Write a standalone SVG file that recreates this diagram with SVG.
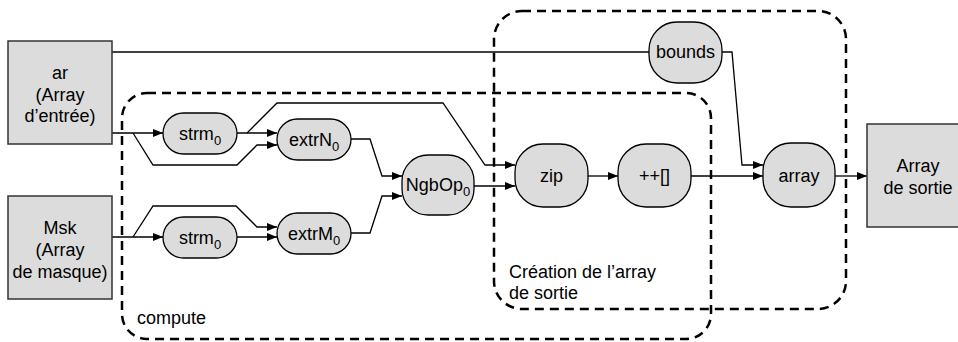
<svg xmlns="http://www.w3.org/2000/svg" width="958" height="342" viewBox="0 0 958 342">
<style>
.box{fill:#dcdcdc;stroke:#333;stroke-width:1.5}
.node{fill:#dcdcdc;stroke:#000;stroke-width:1.3}
.grp{fill:none;stroke:#000;stroke-width:2.5;stroke-dasharray:9 6}
.t{font-family:"Liberation Sans",Arial,sans-serif;font-size:18px;fill:#000}
.c{text-anchor:middle}
.sub{font-size:13px}
.e{fill:none;stroke:#000;stroke-width:1.3}
.a{marker-end:url(#arr)}
</style>
<defs>
<marker id="arr" markerUnits="userSpaceOnUse" markerWidth="10" markerHeight="8" refX="10" refY="4" orient="auto">
<path d="M0,0 L10,4 L0,8 z" fill="#000"/>
</marker>
</defs>
<rect fill="#fff" x="0" y="0" width="958" height="342"/>
<g id="groups">
<rect class="grp" x="494" y="11" width="352" height="298" rx="28"/>
<rect class="grp" x="122" y="93" width="589" height="246" rx="25"/>
<text class="t" x="137" y="324">compute</text>
<text class="t" x="509" y="278">Création de l’array</text>
<text class="t" x="509" y="299">de sortie</text>
</g>
<g id="connectors">
<path class="e" d="M112,52 H649"/>
<path class="e a" d="M112,133 H163"/>
<path class="e a" d="M133,133 L153,165 H237 L257,145 H277"/>
<path class="e a" d="M237,133 H277"/>
<path class="e a" d="M247,133 L277,103 H443 L485,165 H515"/>
<path class="e a" d="M112,237 H163"/>
<path class="e a" d="M133,237 L153,206 H236 L257,227 H277"/>
<path class="e a" d="M237,237 H277"/>
<path class="e a" d="M351,139 H370 L382,176 H402"/>
<path class="e a" d="M351,233 H370 L382,196 H402"/>
<path class="e a" d="M474,186 H515"/>
<path class="e a" d="M588,176 H618"/>
<path class="e a" d="M691,176 H763"/>
<path class="e a" d="M722,52 H732 L742,165 H763"/>
<path class="e a" d="M835,176 H867"/>
</g>
<g id="ar">
<rect class="box" x="8" y="41" width="104" height="103"/>
<text class="t c" x="60" y="79">ar</text>
<text class="t c" x="60" y="100.5">(Array</text>
<text class="t c" x="60" y="122">d’entrée)</text>
</g>
<g id="msk">
<rect class="box" x="8" y="196" width="104" height="103"/>
<text class="t c" x="60" y="234">Msk</text>
<text class="t c" x="60" y="256">(Array</text>
<text class="t c" x="60" y="278">de masque)</text>
</g>
<g id="out">
<rect class="box" x="867" y="124" width="104" height="103"/>
<text class="t c" x="918" y="172">Array</text>
<text class="t c" x="918" y="193.5">de sortie</text>
</g>
<g id="strmN">
<rect class="node" x="163" y="113" width="74" height="41" rx="20.5"/>
<text class="t c" x="200" y="140">strm<tspan class="sub" dy="5">0</tspan></text>
</g>
<g id="extrN">
<rect class="node" x="277" y="119" width="74" height="41" rx="20.5"/>
<text class="t c" x="314" y="146">extrN<tspan class="sub" dy="5">0</tspan></text>
</g>
<g id="strmM">
<rect class="node" x="163" y="217" width="74" height="41" rx="20.5"/>
<text class="t c" x="200" y="244">strm<tspan class="sub" dy="5">0</tspan></text>
</g>
<g id="extrM">
<rect class="node" x="277" y="213" width="74" height="41" rx="20.5"/>
<text class="t c" x="314" y="240">extrM<tspan class="sub" dy="5">0</tspan></text>
</g>
<g id="ngbop">
<rect class="node" x="402" y="155" width="72" height="60" rx="26"/>
<text class="t c" x="438" y="191">NgbOp<tspan class="sub" dy="5">0</tspan></text>
</g>
<g id="zip">
<rect class="node" x="515" y="144" width="73" height="63" rx="28"/>
<text class="t c" x="551.5" y="182">zip</text>
</g>
<g id="concat">
<rect class="node" x="618" y="144" width="73" height="63" rx="28"/>
<text class="t c" x="654.5" y="182">++[]</text>
</g>
<g id="array">
<rect class="node" x="763" y="143" width="72" height="64" rx="28"/>
<text class="t c" x="799" y="182">array</text>
</g>
<g id="bounds">
<rect class="node" x="649" y="22" width="73" height="61" rx="28"/>
<text class="t c" x="685.5" y="58">bounds</text>
</g>
</svg>
